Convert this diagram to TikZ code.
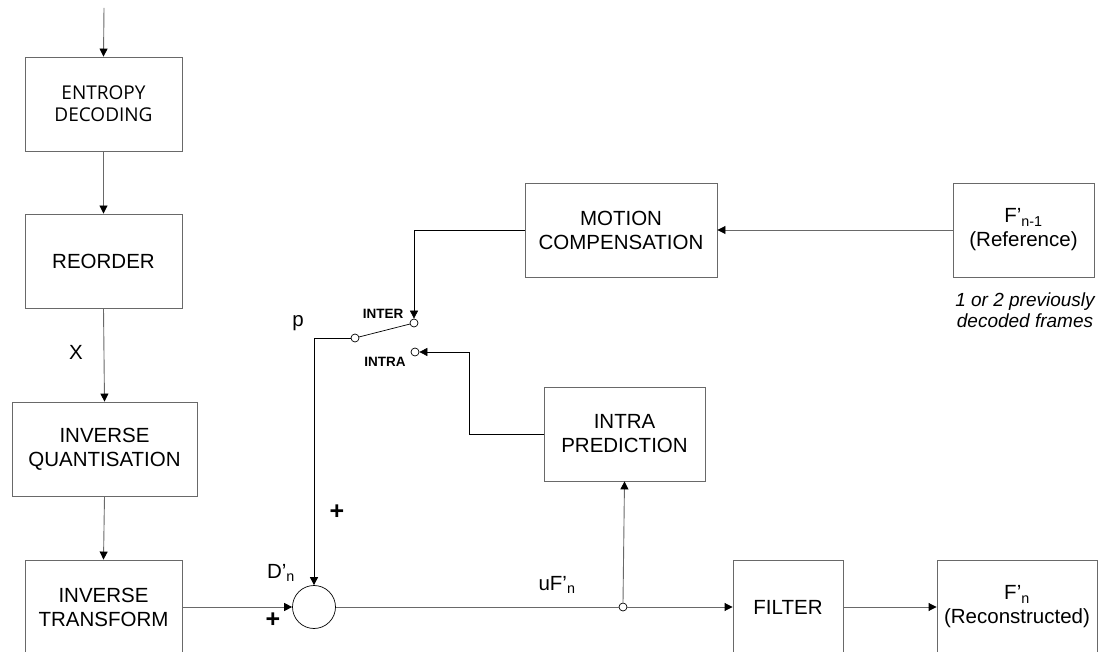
\documentclass[tikz,border=0pt]{standalone}
\usepackage{fontspec}
\setmainfont{Liberation Sans}
\newfontfamily\entfont{Open Sans}
\usetikzlibrary{arrows.meta}
\definecolor{wiregray}{RGB}{105,105,105}
\tikzset{
  blk/.style={draw=wiregray, line width=0.9pt, align=center, inner sep=0pt,
    font=\fontsize{20.5}{24}\selectfont},
  wire/.style={draw=wiregray, line width=0.9pt},
  swire/.style={draw=black, line width=0.7pt},
  arr/.style={-{Triangle[length=8pt,width=8pt,color=black]}},
  contact/.style={circle, draw=black, fill=white, line width=0.7pt, minimum size=8pt, inner sep=0pt},
  lbl/.style={font=\fontsize{20.5}{22}\selectfont},
  pls/.style={font=\bfseries\fontsize{25}{25}\selectfont},
  slbl/.style={font=\bfseries\fontsize{13.5}{15}\selectfont},
  }

\begin{document}
\begin{tikzpicture}[x=1pt,y=-1pt]
  \useasboundingbox (0,0) rectangle (1104,652);
  \clip (0,0) rectangle (1104,652);

  % decoder chain on the left
  \coordinate (in) at (104,8);
  \node[blk, minimum width=157pt, minimum height=94pt, font=\entfont\fontsize{19}{22}\selectfont]
    (ent) at (103.5,104) {ENTROPY\\DECODING};
  \node[blk, minimum width=157pt, minimum height=94pt] (reord) at (103.5,261) {REORDER};
  \node[blk, minimum width=185pt, minimum height=94pt] (invq) at (104.5,449) {INVERSE\\QUANTISATION};
  \node[blk, minimum width=157pt, minimum height=94pt] (invt) at (103.5,607) {INVERSE\\TRANSFORM};

  % prediction blocks
  \node[blk, minimum width=192pt, minimum height=94pt] (mc) at (621,230) {MOTION\\COMPENSATION};
  \node[blk, minimum width=141pt, minimum height=94pt] (ref) at (1023.5,230)
    {F’\textsubscript{n-1}\\(Reference)};
  \node[blk, minimum width=161pt, minimum height=94pt] (intra) at (624.5,434) {INTRA\\PREDICTION};
  \node[blk, minimum width=110pt, minimum height=94pt] (filt) at (788,607) {FILTER};
  \node[blk, minimum width=160pt, minimum height=94pt] (recon) at (1017,607)
    {F’\textsubscript{n}\\(Reconstructed)};

  % adder, switch and junction
  \node[circle, draw=black, line width=0.7pt, minimum size=43pt, inner sep=0pt] (sum) at (314,607) {};
  \node[contact] (pole) at (355,338) {};
  \node[contact] (inter) at (414,323) {};
  \node[contact] (intrac) at (415,352) {};
  \node[contact] (junc) at (623,607) {};
  \coordinate (bend) at (469,434);

  % connectors
  \draw[wire,arr] (in) -- (ent.north);
  \draw[wire,arr] (ent.south) -- (reord.north);
  \draw[wire,arr] (reord.south) -- (invq.north);
  \draw[wire,arr] (invq.south) -- (invt.north);
  \draw[wire,arr] (invt.east) -- (sum.west);
  \draw[wire] (sum.east) -- (junc.west);
  \draw[wire,arr] (junc.east) -- (filt.west);
  \draw[wire,arr] (junc.north) -- (intra.south);
  \draw[wire,arr] (filt.east) -- (recon.west);
  \draw[wire,arr] (ref.west) -- (mc.east);
  \draw[swire,arr] (mc.west) -| (inter.north);
  \draw[swire,arr] (intra.west) -- (bend) |- (intrac.east);
  \draw[swire] (pole) -- (inter);
  \draw[swire,arr] (pole.west) -| (sum.north);

  % labels
  \node[lbl] (xlbl) at (76,352) {X};
  \node[lbl] (plbl) at (298,323) {p};
  \node[slbl] (interlbl) at (383,314) {INTER};
  \node[slbl] (intralbl) at (385,362) {INTRA};
  \node[lbl] (dlbl) at (281,573) {D’\textsubscript{n}};
  \node[pls] (plus1) at (273,620) {+};
  \node[pls] (plus2) at (337,512) {+};
  \node[lbl] (ulbl) at (557,585) {uF’\textsubscript{n}};
  \node[align=center, font=\itshape\fontsize{19}{21}\selectfont] (note) at (1025,310)
    {1 or 2 previously\\decoded frames};
\end{tikzpicture}
\end{document}
